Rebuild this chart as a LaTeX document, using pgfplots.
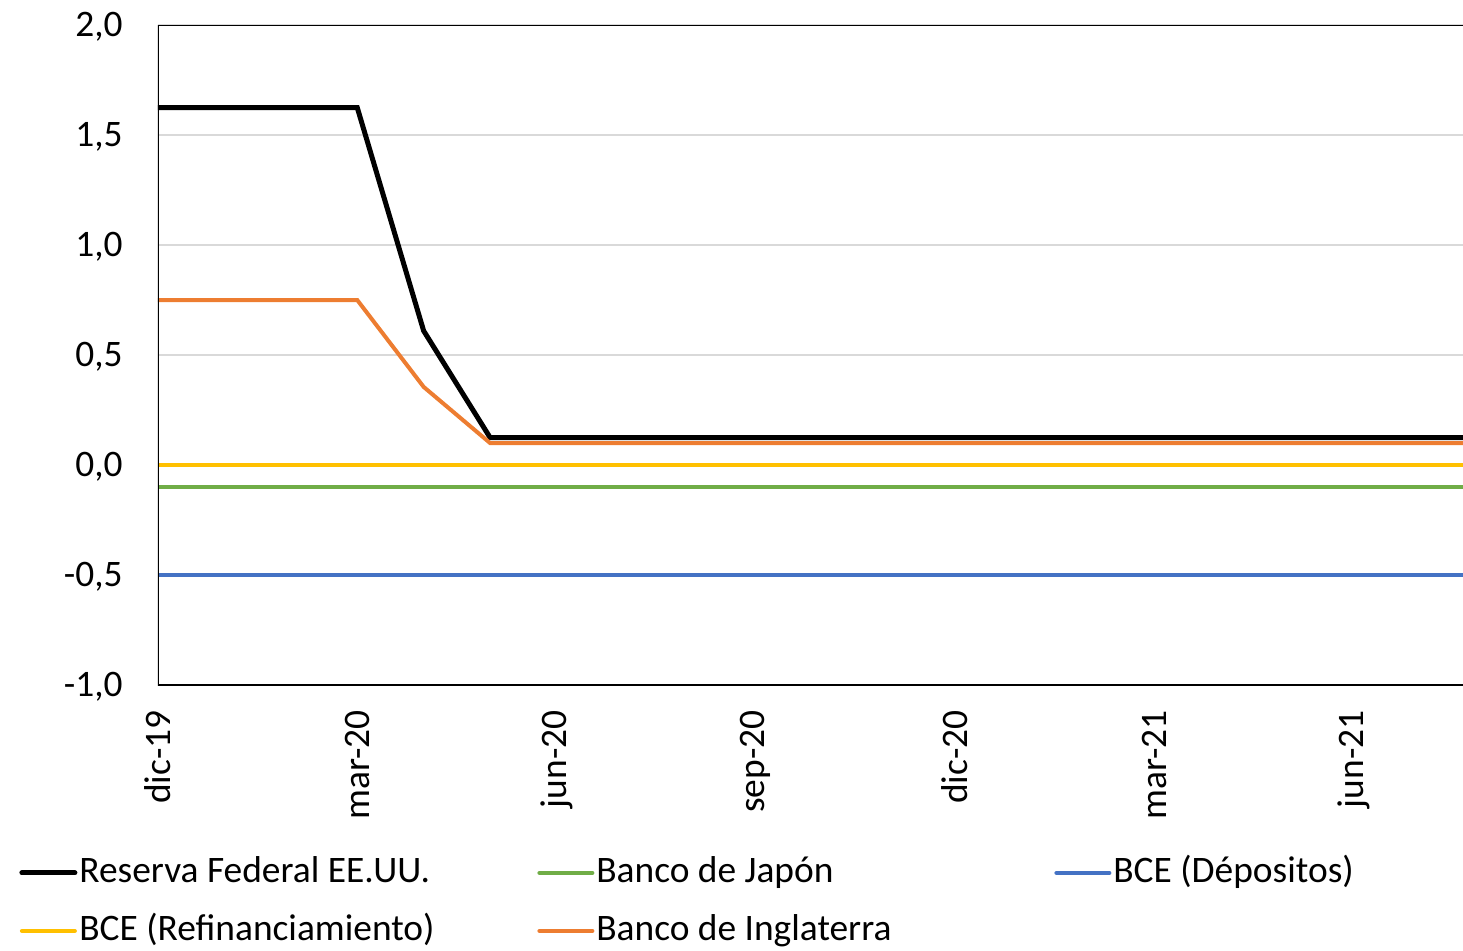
\documentclass[border=0pt]{standalone}
\usepackage{fontspec}
\setmainfont{Carlito}
\usepackage{pgfplots}
\pgfplotsset{compat=1.18}
\definecolor{cGreen}{HTML}{70AD47}
\definecolor{cBlue}{HTML}{4472C4}
\definecolor{cYellow}{HTML}{FFC000}
\definecolor{cOrange}{HTML}{ED7D31}
\definecolor{cGrid}{HTML}{D9D9D9}
\begin{document}
\begin{tikzpicture}[font=\fontsize{18.7}{22}\selectfont]
\begin{axis}[
  scale only axis,
  width=652.5pt, height=330pt,
  at={(0,0)}, anchor=south west,
  xmin=0, xmax=19.65,
  ymin=-1, ymax=2,
  xtick={0,3,6,9,12,15,18},
  xticklabels={dic-19,mar-20,jun-20,sep-20,dic-20,mar-21,jun-21},
  ytick={-1,-0.5,0,0.5,1,1.5,2},
  yticklabels={{-1,0},{-0,5},{0,0},{0,5},{1,0},{1,5},{2,0}},
  major tick length=0pt,
  ymajorgrids,
  major grid style={cGrid, line width=1pt},
  axis line style={draw=none},
  xticklabel style={rotate=90, anchor=east, inner sep=0pt},
  xticklabel shift=12.5pt,
  yticklabel style={anchor=east, inner sep=0pt, yshift=-1pt},
  yticklabel shift=17.5pt,
  legend columns=3,
  legend image code/.code={\draw[#1, line cap=round] (0pt,0pt) -- (26.5pt,0pt);},
  legend style={at={(0,0)}, anchor=north west, xshift=-69.5pt, yshift=-85pt,
    draw=none, fill=none, inner sep=0pt, row sep=11.5pt,
    nodes={inner sep=0pt, text height=13.5pt, text depth=4pt},
    /tikz/every odd column/.append style={column sep=1pt},
    /tikz/every even column/.append style={column sep=0pt}},
  legend cell align=left,
]
\addplot[black, line width=2.5pt] coordinates {
(0,1.625)(1,1.625)(2,1.625)(3,1.625)(4,0.61)(5,0.125)(6,0.125)(7,0.125)(8,0.125)(9,0.125)(10,0.125)(11,0.125)(12,0.125)(13,0.125)(14,0.125)(15,0.125)(16,0.125)(17,0.125)(18,0.125)(19,0.125)(20,0.125)};
\addlegendentry{\makebox[229pt][l]{Reserva Federal EE.UU.}}
\addplot[cGreen, line width=2pt] coordinates {(0,-0.1)(20,-0.1)};
\addlegendentry{\makebox[229pt][l]{Banco de Japón}}
\addplot[cBlue, line width=2pt] coordinates {(0,-0.5)(20,-0.5)};
\addlegendentry{\makebox[229pt][l]{BCE (Dépositos)}}
\addplot[cYellow, line width=2pt] coordinates {(0,0)(20,0)};
\addlegendentry{\makebox[229pt][l]{BCE (Refinanciamiento)}}
\addplot[cOrange, line width=2pt] coordinates {
(0,0.75)(1,0.75)(2,0.75)(3,0.75)(4,0.355)(5,0.1)(6,0.1)(7,0.1)(8,0.1)(9,0.1)(10,0.1)(11,0.1)(12,0.1)(13,0.1)(14,0.1)(15,0.1)(16,0.1)(17,0.1)(18,0.1)(19,0.1)(20,0.1)};
\addlegendentry{\makebox[229pt][l]{Banco de Inglaterra}}
\draw[black, line width=1pt] (rel axis cs:1.02,1) -- (rel axis cs:0,1) -- (rel axis cs:0,0) -- (rel axis cs:1.02,0);
\end{axis}
\pgfresetboundingbox
\useasboundingbox (-79pt,-132.5pt) rectangle (652.5pt,342.5pt);
\end{tikzpicture}
\end{document}
